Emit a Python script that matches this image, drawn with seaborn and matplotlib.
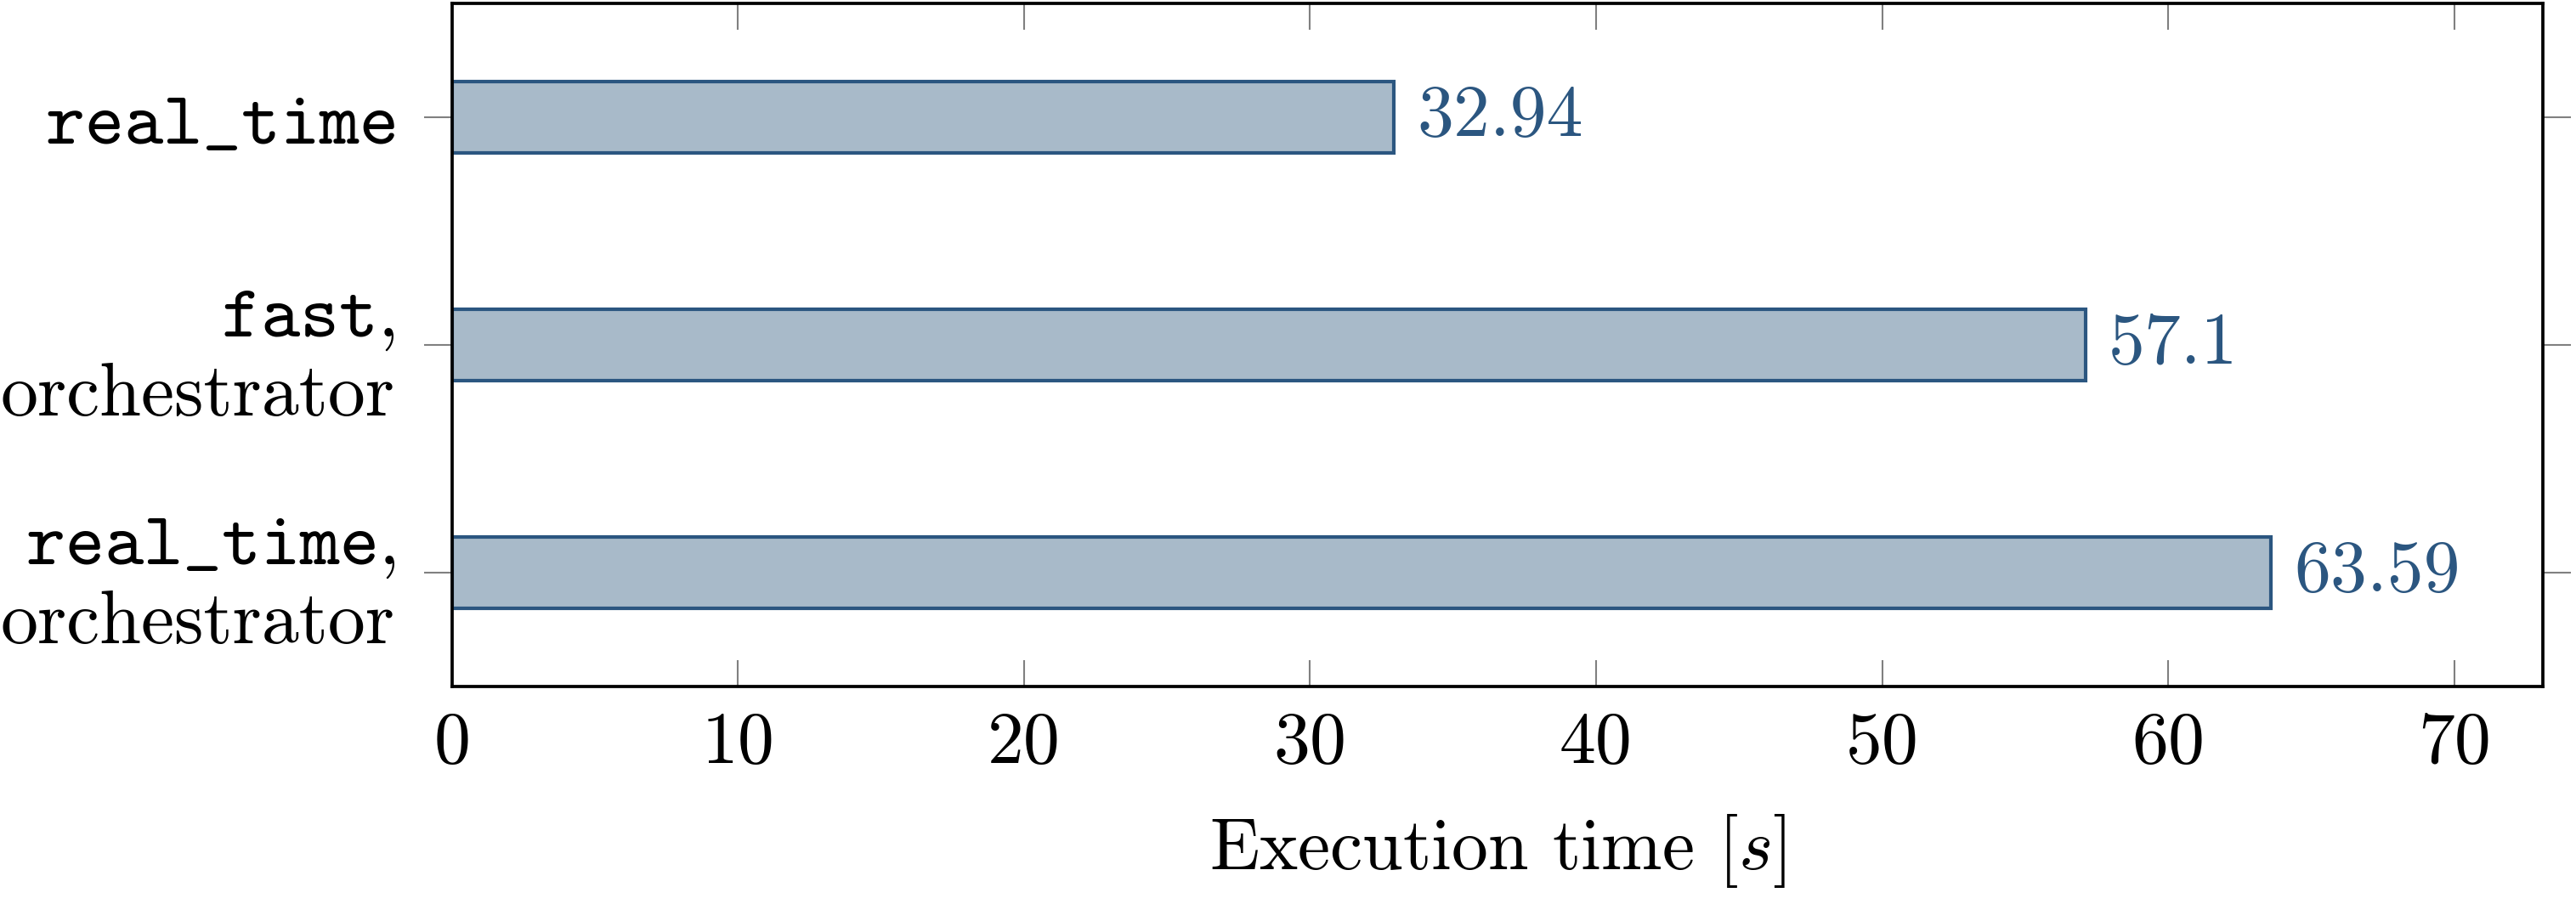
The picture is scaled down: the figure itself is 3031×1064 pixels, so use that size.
import matplotlib
matplotlib.use("Agg")
import matplotlib.pyplot as plt
import seaborn as sns

categories = ["real_time", "fast, orchestrator", "real_time, orchestrator"]
values = [32.94, 57.1, 63.59]
tick_labels = [r"$\mathtt{real\_time}$",
               r"$\mathtt{fast}$," + "\n" + "orchestrator",
               r"$\mathtt{real\_time}$," + "\n" + "orchestrator"]
xticks = [0, 10, 20, 30, 40, 50, 60, 70]
value_texts = ["32.94", "57.1", "63.59"]

sns.set_style("white")
plt.rcParams["font.family"] = ["cmr10", "DejaVu Sans"]
plt.rcParams["mathtext.fontset"] = "cm"
plt.rcParams["axes.formatter.use_mathtext"] = True
plt.rcParams["text.color"] = "black"
plt.rcParams["axes.labelcolor"] = "black"

FILL = "#a8bac9"
EDGE = "#2b5680"
FS = 20.6
FS_Y = 21.1

fig = plt.figure(figsize=(3031 / 300, 1064 / 300), dpi=300)
ax = fig.add_axes([0.1754, 0.2406, 0.9872 - 0.1754, 0.9962 - 0.2406])

sns.barplot(x=values, y=categories, orient="h", color=FILL, saturation=1,
            edgecolor=EDGE, linewidth=1.0, width=0.31, ax=ax)

ax.set_xlim(0, 73.1)
ax.set_ylim(2.5, -0.5)
ax.set_xticks(xticks)
ax.set_xticklabels([str(t) for t in xticks], fontsize=FS)
ax.set_yticks(range(len(categories)))
ax.set_yticklabels(tick_labels, fontsize=FS_Y, ha="right", multialignment="right")

for i, (v, t) in enumerate(zip(values, value_texts)):
    ax.annotate(t, xy=(v, i), xytext=(6.5, 0), textcoords="offset points",
                ha="left", va="center", fontsize=FS, color=EDGE)

ax.set_xlabel("Execution time $[s]$", fontsize=FS, labelpad=10, color="black")
ax.set_ylabel("")

ax.tick_params(axis="x", direction="in", top=True, bottom=True, length=7.5,
               width=0.5, color="#808080", pad=7, labelcolor="black")
ax.tick_params(axis="y", direction="out", left=True, right=True, length=8,
               width=0.5, color="#808080", pad=8, labelcolor="black")
for s in ax.spines.values():
    s.set_visible(True)
    s.set_color("black")
    s.set_linewidth(0.9)

fig.savefig("out.png", dpi=300)
